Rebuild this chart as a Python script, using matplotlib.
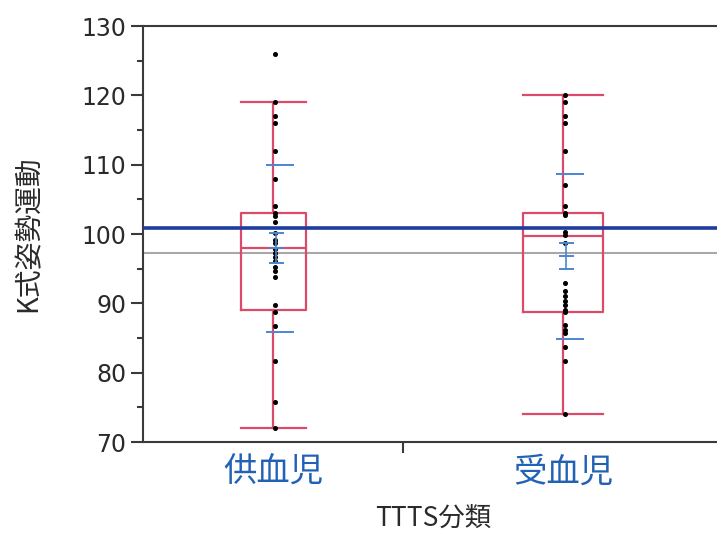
import numpy as np
import matplotlib.pyplot as plt

# ── Data ──────────────────────────────────────────────────────────────────────
groups = ['供血児', '受血児']
group_share = [1.0, 1.23]          # x axis proportional to group size

donor_pts = [126, 119, 117, 116, 112, 108, 104, 103.1, 102.6, 101.8, 100.1,
             99.2, 98.7, 97.8, 97.3, 96.7, 96.1, 95.3, 94.7, 93.8, 89.7,
             88.7, 86.8, 81.7, 75.7, 72]
recip_pts = [120, 119, 117, 116, 112, 107, 104, 103.1, 102.8, 100.3, 99.9,
             98.7, 92.9, 91.8, 91.1, 90.4, 89.8, 89.0, 88.8, 86.9, 86.2,
             85.7, 83.7, 81.7, 74]

box_med  = [98.0, 99.7]
box_q1   = [89.1, 88.8]
box_q3   = [103.0, 103.1]
whisk_lo = [72, 74]
whisk_hi = [119, 120]

means = [97.95, 96.8]
sds   = [12.05, 11.9]
ci_lo = [95.8, 94.95]
ci_hi = [100.1, 98.75]

grand_mean = 97.3
ref_value  = 100.9

yticks = [70, 80, 90, 100, 110, 120, 130]

RED   = '#dc4a6a'
BLUE  = '#4a86d0'
NAVY  = '#1f3ca0'
GREY  = '#a8a8a8'
AXC   = '#3a3a3a'
TXT   = '#2a2a2a'
CJK   = ['Noto Sans CJK JP', 'DejaVu Sans']
PX    = 1 / 260.0                 # one pixel in x data units

plt.rcParams.update({
    'font.family': ['DejaVu Sans', 'Noto Sans CJK JP'],
    'axes.linewidth': 1.5,
    'axes.edgecolor': AXC,
})

fig = plt.figure(figsize=(7.17, 5.38), dpi=100)
ax = fig.add_axes([143 / 717, 1 - 442 / 538, 580 / 717, 416 / 538])

edges = np.concatenate([[0], np.cumsum(group_share)])
centers = (edges[:-1] + edges[1:]) / 2

# reference lines
ax.axhline(grand_mean, color=GREY, linewidth=1.5, zorder=1)
ax.axhline(ref_value, color=NAVY, linewidth=2.6, zorder=4)

# box plots
stats = []
for i in range(len(groups)):
    stats.append({'med': box_med[i], 'q1': box_q1[i], 'q3': box_q3[i],
                  'whislo': whisk_lo[i], 'whishi': whisk_hi[i], 'fliers': []})
widths = [0.25 * s for s in group_share]
lp = dict(color=RED, linewidth=1.6)
ax.bxp(stats, positions=centers, widths=widths, capwidths=widths,
       showfliers=False, boxprops=lp, whiskerprops=lp, capprops=lp,
       medianprops=lp, manage_ticks=False, zorder=2)

# points
for i, pts in enumerate([donor_pts, recip_pts]):
    ax.plot(np.full(len(pts), centers[i] + 2 * PX), pts, linestyle='none',
            marker='o', markersize=2.6, color='black', zorder=5)

# means and std dev
for i in range(len(groups)):
    cx = centers[i] + 6.5 * PX
    ax.hlines([means[i] + sds[i], means[i] - sds[i]], cx - 14 * PX, cx + 14 * PX,
              color=BLUE, linewidth=1.4, zorder=6)
    cx = centers[i] + 3 * PX
    ax.errorbar(cx, means[i],
                yerr=[[means[i] - ci_lo[i]], [ci_hi[i] - means[i]]],
                color=BLUE, linewidth=1.2, capsize=5.4, capthick=1.4,
                marker='_', markersize=10.8, markeredgewidth=1.4, zorder=6)

ax.set_xlim(edges[0], edges[-1])
ax.set_ylim(70, 130)
ax.set_yticks(yticks)
ax.set_yticks(np.arange(75, 130, 10), minor=True)
ax.tick_params(axis='y', which='major', length=8.6, width=1.5, pad=3.5,
               labelsize=17, labelcolor=TXT, color=AXC)
ax.tick_params(axis='y', which='minor', length=4.3, width=1.5, color=AXC)
for lbl in ax.get_yticklabels():
    lbl.set_family('DejaVu Sans')

ax.set_xticks(centers)
ax.set_xticklabels(groups, fontsize=24, color='#2262b4', family=CJK)
ax.set_xticks(edges[1:-1], minor=True)
ax.tick_params(axis='x', which='major', length=0, pad=9)
ax.tick_params(axis='x', which='minor', length=8, width=1.5, color=AXC)

ax.set_ylabel('K式姿勢運動', fontsize=20, color=TXT, family=CJK, labelpad=27)
ax.set_xlabel('TTTS分類', fontsize=19, color=TXT, family=CJK, labelpad=11)

fig.savefig('out.png', dpi=100, facecolor='white')
